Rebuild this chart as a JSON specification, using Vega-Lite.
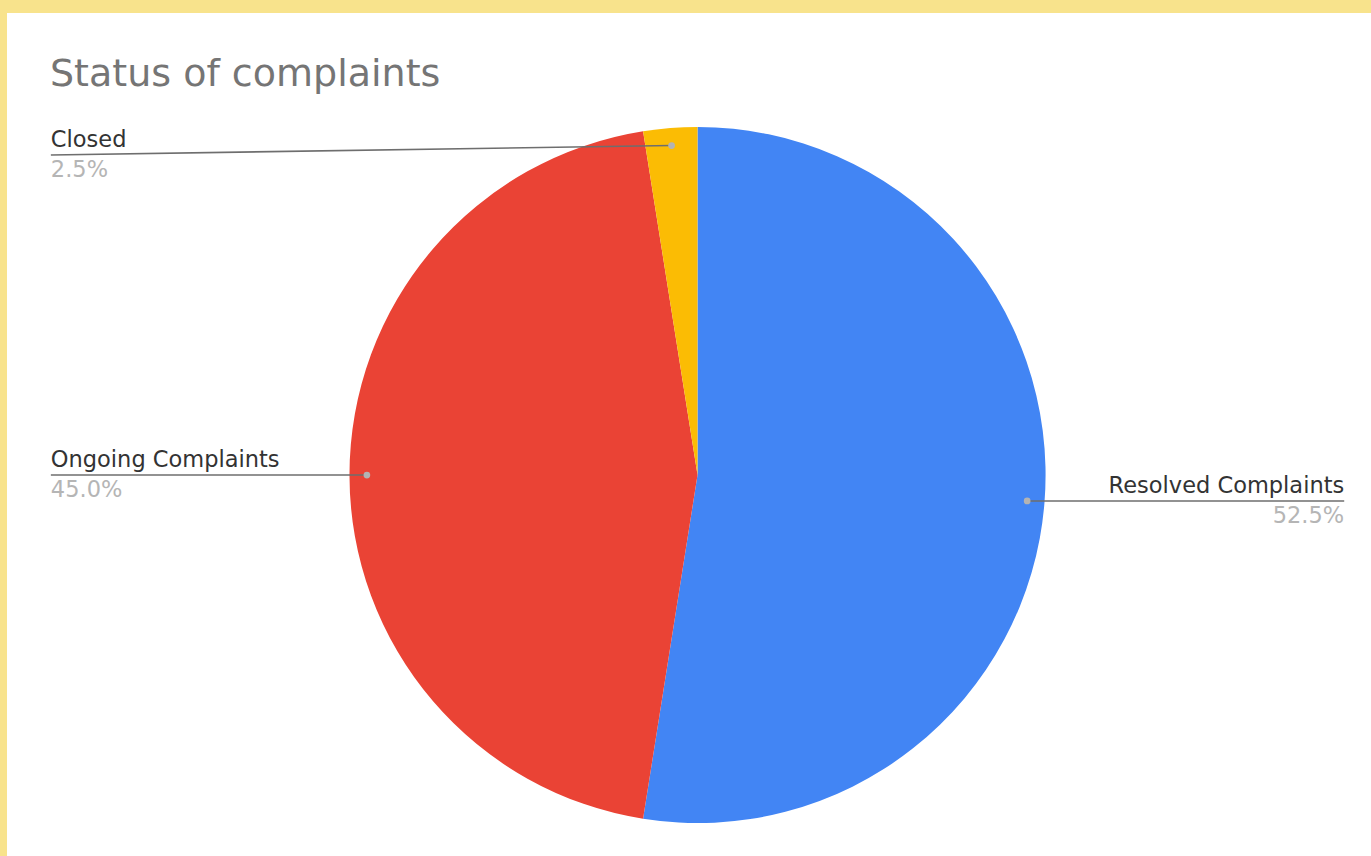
{
  "$schema": "https://vega.github.io/schema/vega-lite/v6.json",
  "width": 1371,
  "height": 856,
  "autosize": {"type": "fit", "contains": "padding"},
  "padding": {"left": 7, "top": 13, "right": 0, "bottom": 0},
  "background": "#F8E38C",
  "view": {"fill": "white", "stroke": null},
  "title": {
    "text": "Status of complaints",
    "anchor": "start",
    "dx": 43,
    "offset": -111,
    "baseline": "alphabetic",
    "font": "DejaVu Sans",
    "fontSize": 38,
    "fontWeight": "normal",
    "color": "#757575"
  },
  "data": {
    "values": [
      {"status": "Resolved Complaints", "count": 21, "order": 1},
      {"status": "Ongoing Complaints", "count": 18, "order": 2},
      {"status": "Closed", "count": 1, "order": 3}
    ]
  },
  "transform": [
    {"joinaggregate": [{"op": "sum", "field": "count", "as": "total"}]},
    {"window": [{"op": "sum", "field": "count", "as": "cum"}], "sort": [{"field": "order"}], "frame": [null, 0]},
    {"calculate": "2*PI*(datum.cum - datum.count/2)/datum.total", "as": "mid"},
    {"calculate": "0.95*sin(datum.mid)", "as": "px"},
    {"calculate": "0.95*cos(datum.mid)", "as": "py"},
    {"calculate": "datum.px < 0 ? -1.858 : 1.858", "as": "lx"},
    {"calculate": "min(datum.py, 0.92)", "as": "ly"},
    {"calculate": "format(datum.count/datum.total, '.1%')", "as": "pct"}
  ],
  "layer": [
    {
      "mark": {
        "type": "arc",
        "x": {"expr": "scale('x', 0)"},
        "y": {"expr": "scale('y', 0)"},
        "radius": {"expr": "scale('x', 1) - scale('x', 0)"}
      },
      "encoding": {
        "theta": {"field": "count", "type": "quantitative", "stack": true},
        "order": {"field": "order", "type": "quantitative"},
        "color": {
          "field": "status",
          "type": "nominal",
          "scale": {
            "domain": ["Resolved Complaints", "Ongoing Complaints", "Closed"],
            "range": ["#4285F4", "#EA4335", "#FBBC04"]
          },
          "legend": null
        }
      }
    },
    {
      "mark": {
        "type": "rule",
        "color": "#6e6e6e",
        "strokeWidth": 1.6
      },
      "encoding": {
        "x": {"field": "lx", "type": "quantitative", "scale": {"domain": [-1.984, 1.935], "nice": false, "zero": false}, "axis": null},
        "y": {"field": "ly", "type": "quantitative", "scale": {"domain": [-1.095, 1.328], "nice": false, "zero": false}, "axis": null},
        "x2": {"field": "px"},
        "y2": {"field": "py"}
      }
    },
    {
      "mark": {"type": "point", "filled": true, "size": 45, "color": "#b3b3b3", "opacity": 1},
      "encoding": {
        "x": {"field": "px", "type": "quantitative", "scale": {"domain": [-1.984, 1.935], "nice": false, "zero": false}, "axis": null},
        "y": {"field": "py", "type": "quantitative", "scale": {"domain": [-1.095, 1.328], "nice": false, "zero": false}, "axis": null}
      }
    },
    {
      "mark": {
        "type": "text",
        "align": {"expr": "datum.lx < 0 ? 'left' : 'right'"},
        "baseline": "alphabetic",
        "dy": -8,
        "font": "DejaVu Sans",
        "fontSize": 22.5,
        "color": "#333333"
      },
      "encoding": {
        "x": {"field": "lx", "type": "quantitative", "scale": {"domain": [-1.984, 1.935], "nice": false, "zero": false}, "axis": null},
        "y": {"field": "ly", "type": "quantitative", "scale": {"domain": [-1.095, 1.328], "nice": false, "zero": false}, "axis": null},
        "text": {"field": "status", "type": "nominal"}
      }
    },
    {
      "mark": {
        "type": "text",
        "align": {"expr": "datum.lx < 0 ? 'left' : 'right'"},
        "baseline": "alphabetic",
        "dy": 22,
        "font": "DejaVu Sans",
        "fontSize": 22.5,
        "color": "#b5b5b5"
      },
      "encoding": {
        "x": {"field": "lx", "type": "quantitative", "scale": {"domain": [-1.984, 1.935], "nice": false, "zero": false}, "axis": null},
        "y": {"field": "ly", "type": "quantitative", "scale": {"domain": [-1.095, 1.328], "nice": false, "zero": false}, "axis": null},
        "text": {"field": "pct", "type": "nominal"}
      }
    }
  ]
}
